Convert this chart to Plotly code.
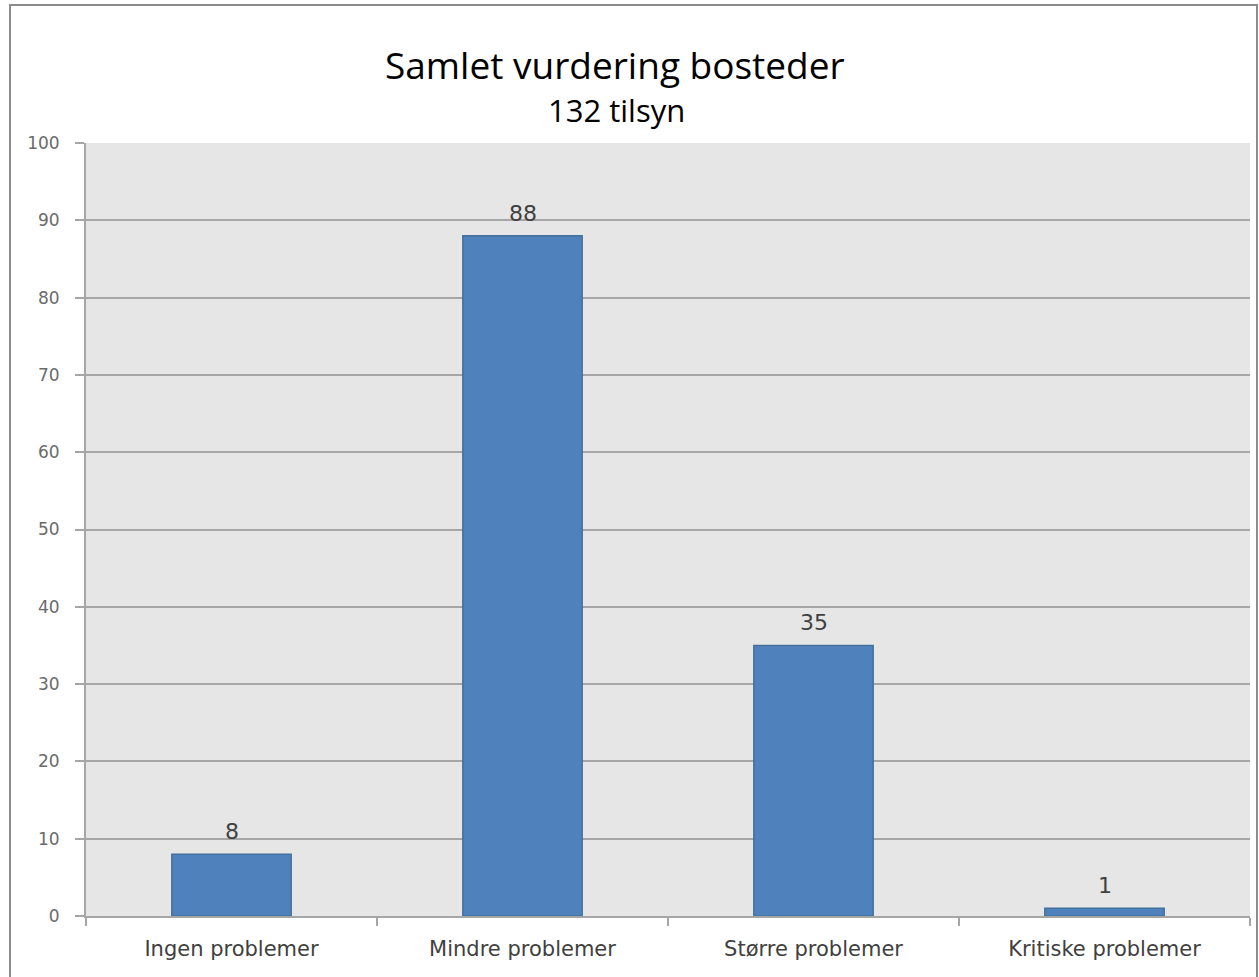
import plotly.graph_objects as go

categories = ["Ingen problemer", "Mindre problemer", "Større problemer", "Kritiske problemer"]
values = [8, 88, 35, 1]
y_ticks = [0, 10, 20, 30, 40, 50, 60, 70, 80, 90, 100]

W, H = 1259, 977
L, R, T, B = 86, 9, 143, 61
pw, ph = W - L - R, H - T - B

fig = go.Figure(go.Bar(
    x=categories, y=values, width=0.41,
    marker=dict(color="#4F81BD", line=dict(color="#41719C", width=1.5)),
    cliponaxis=False, hoverinfo="x+y",
))

label_annotations = [
    dict(text=str(v), x=c, y=v, xref="x", yref="y", showarrow=False,
         yanchor="bottom", xanchor="center", yshift=8,
         font=dict(family="DejaVu Sans", size=22, color="#404040"))
    for c, v in zip(categories, values)
]

fig.update_layout(
    width=W, height=H,
    margin=dict(l=L, r=R, t=T, b=B),
    paper_bgcolor="white", plot_bgcolor="#E6E6E6",
    showlegend=False,
    bargap=0.59,
    annotations=[
        dict(text="Samlet vurdering bosteder", xref="paper", yref="paper",
             x=(615 - L) / pw, y=1 + (T - 65) / ph, showarrow=False,
             font=dict(family="Open Sans", size=37, color="black"), xanchor="center", yanchor="middle"),
        dict(text="132 tilsyn", xref="paper", yref="paper",
             x=(616 - L) / pw, y=1 + (T - 110) / ph, showarrow=False,
             font=dict(family="Open Sans", size=31, color="black"), xanchor="center", yanchor="middle"),
    ] + label_annotations,
    shapes=[
        dict(type="rect", xref="paper", yref="paper",
             x0=(10 - L) / pw, x1=(1257 - L) / pw,
             y0=1 + (T - 5) / ph, y1=-(B + 5) / ph,
             line=dict(color="#8C8C8C", width=2), fillcolor="rgba(0,0,0,0)", layer="below"),
    ],
)

fig.update_yaxes(
    range=[0, 100], tickvals=y_ticks, ticktext=[str(v) for v in y_ticks],
    showgrid=True, gridcolor="#A6A6A6", gridwidth=2,
    showline=True, linecolor="#A6A6A6", linewidth=2,
    ticks="outside", ticklen=9, tickcolor="#A6A6A6", tickwidth=2,
    tickfont=dict(family="DejaVu Sans", size=17, color="#6A6A6A"),
    ticklabelstandoff=12, zeroline=False,
)
fig.update_xaxes(
    showline=True, linecolor="#A6A6A6", linewidth=2,
    ticks="outside", tickson="boundaries", ticklen=8, tickcolor="#A6A6A6", tickwidth=2,
    tickfont=dict(family="DejaVu Sans", size=21, color="#404040"),
    ticklabelstandoff=13, showgrid=False,
)

fig.write_html("out.html", config={"displayModeBar": False},
               post_script="document.body.style.margin='0px';")
